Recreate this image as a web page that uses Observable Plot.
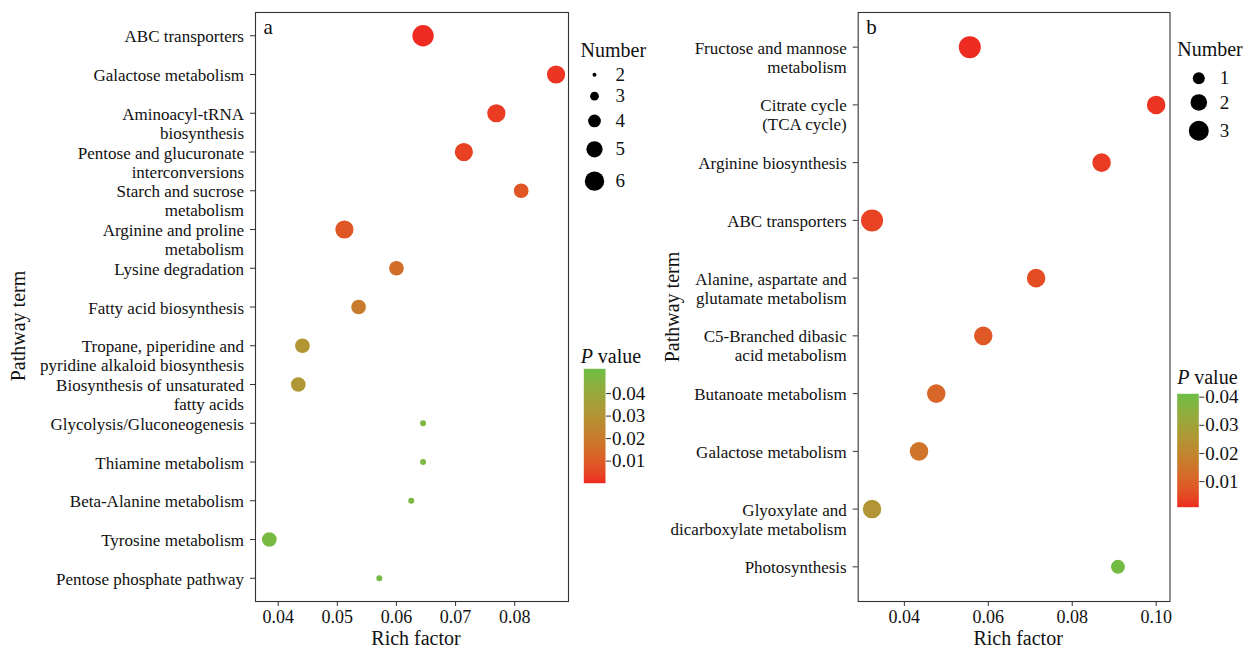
<!DOCTYPE html>
<html>
<head>
<meta charset="utf-8">
<script src="https://cdn.jsdelivr.net/npm/d3@7"></script>
<script src="https://cdn.jsdelivr.net/npm/@observablehq/plot@0.6"></script>
<style>
  body { margin: 0; background: #fff; }
  #chart { position: relative; width: 1248px; height: 651px; overflow: hidden; background: #fff; }
  #chart > svg { position: absolute; }
</style>
</head>
<body>
<div id="chart"></div>
<script>
const FONT = '"Liberation Serif", "Times New Roman", Times, serif';
const INK = "#111";
const LINE = "#333";
const LOW = "#EE2A22";   // small P value
const HIGH = "#6DBE45";  // large P value

// ---- Panel a ----
const termsA = [
  "ABC transporters",
  "Galactose metabolism",
  "Aminoacyl-tRNA\nbiosynthesis",
  "Pentose and glucuronate\ninterconversions",
  "Starch and sucrose\nmetabolism",
  "Arginine and proline\nmetabolism",
  "Lysine degradation",
  "Fatty acid biosynthesis",
  "Tropane, piperidine and\npyridine alkaloid biosynthesis",
  "Biosynthesis of unsaturated\nfatty acids",
  "Glycolysis/Gluconeogenesis",
  "Thiamine metabolism",
  "Beta-Alanine metabolism",
  "Tyrosine metabolism",
  "Pentose phosphate pathway"
];
const richA  = [0.0645, 0.0870, 0.0769, 0.0714, 0.0811, 0.0512, 0.0600, 0.0536, 0.0441, 0.0434, 0.0645, 0.0645, 0.0625, 0.0385, 0.0571];
const countA = [6, 5, 5, 5, 4, 5, 4, 4, 4, 4, 2, 2, 2, 4, 2];
const pA     = [0.0003, 0.0017, 0.0027, 0.0038, 0.0083, 0.0088, 0.0155, 0.0205, 0.0310, 0.0320, 0.0470, 0.0470, 0.0475, 0.0485, 0.0495];
const xTicksA = [0.04, 0.05, 0.06, 0.07, 0.08];
const countKeysA = [2, 3, 4, 5, 6];
const pTicksA = [0.01, 0.02, 0.03, 0.04];

// ---- Panel b ----
const termsB = [
  "Fructose and mannose\nmetabolism",
  "Citrate cycle\n(TCA cycle)",
  "Arginine biosynthesis",
  "ABC transporters",
  "Alanine, aspartate and\nglutamate metabolism",
  "C5-Branched dibasic\nacid metabolism",
  "Butanoate metabolism",
  "Galactose metabolism",
  "Glyoxylate and\ndicarboxylate metabolism",
  "Photosynthesis"
];
const richB  = [0.0556, 0.1000, 0.0870, 0.0323, 0.0714, 0.0588, 0.0476, 0.0435, 0.0323, 0.0909];
const countB = [3, 2, 2, 3, 2, 2, 2, 2, 2, 1];
const pB     = [0.0011, 0.0020, 0.0030, 0.0040, 0.0057, 0.0078, 0.0110, 0.0150, 0.0250, 0.0400];
const xTicksB = [0.04, 0.06, 0.08, 0.10];
const countKeysB = [1, 2, 3];
const pTicksB = [0.01, 0.02, 0.03, 0.04];

// ---- shared scale settings ----
const rA = {type: "sqrt", domain: [2, 6], range: [2, 9.7]};
const rB = {type: "sqrt", domain: [1, 3], range: [6, 10]};
const colorA = {type: "linear", domain: [0.0002, 0.0510], range: [LOW, HIGH], interpolate: d3.interpolateLab};
const colorB = {type: "linear", domain: [0.0009, 0.0412], range: [LOW, HIGH], interpolate: d3.interpolateLab};

const chart = document.getElementById("chart");
function place(node, left, top) {
  node.style.left = left + "px";
  node.style.top = top + "px";
  chart.append(node);
  return node;
}
const baseStyle = {fontFamily: FONT, fontSize: "17px", color: INK, background: "transparent", overflow: "visible"};

function bubblePanel({terms, rich, count, p, xDomain, xTicks, r, color, letter, width, marginLeft, marginRight, titleX, titleDy}) {
  const rows = terms.map((term, i) => ({term, rich: rich[i], count: count[i], p: p[i]}));
  return Plot.plot({
    width, height: 651,
    marginLeft, marginRight, marginTop: 12, marginBottom: 50,
    style: baseStyle,
    x: {domain: xDomain, label: null},
    y: {type: "point", domain: terms, padding: 0.6, round: false, label: null},
    r, color,
    marks: [
      Plot.frame({stroke: LINE, strokeWidth: 1.1}),
      Plot.axisX({ticks: xTicks, tickFormat: d3.format(".2f"), tickSize: 5, tickPadding: 4, fontSize: 18, stroke: LINE, label: null}),
      Plot.axisY({tickSize: 5, tickFormat: () => "", stroke: LINE, label: null}),
      Plot.text(terms, {y: d => d, text: d => d, frameAnchor: "left", dx: -11.5, dy: -7,
        textAnchor: "end", lineAnchor: "top", lineHeight: 1.12, fontSize: 17, fill: INK}),
      Plot.text(["Rich factor"], {frameAnchor: "bottom", dx: 4, dy: 37.5, textAnchor: "middle", lineAnchor: "middle", fontSize: 20, fill: INK}),
      Plot.text(["Pathway term"], {frameAnchor: "left", rotate: -90, dx: titleX - marginLeft, dy: titleDy,
        textAnchor: "middle", lineAnchor: "middle", fontSize: 20, fill: INK}),
      Plot.text([letter], {frameAnchor: "top-left", dx: 8, dy: 15, textAnchor: "start", lineAnchor: "middle", fontSize: 21, fill: INK}),
      Plot.dot(rows, {x: "rich", y: "term", r: "count", fill: "p", stroke: "p", strokeWidth: 2})
    ]
  });
}

// keys are stacked by their drawn radius, larger circles taking more room
function sizeLegend({keys, r, pad, width, height, titleX, titleY, keyX, keyY0}) {
  const rs = Plot.scale({r});
  const rows = [];
  let y = keyY0, prev = 0;
  keys.forEach((k, i) => {
    const h = Math.max(20, 2 * rs.apply(k) + pad);
    if (i) y += (prev + h) / 2;
    rows.push({count: k, y});
    prev = h;
  });
  return Plot.plot({
    width, height, margin: 0,
    style: baseStyle,
    y: {type: "identity", axis: null},
    r,
    marks: [
      Plot.text(["Number"], {frameAnchor: "top-left", dx: titleX, dy: titleY, textAnchor: "start", lineAnchor: "middle", fontSize: 20, fill: INK}),
      Plot.dot(rows, {y: "y", r: "count", fill: "#000", frameAnchor: "left", dx: keyX}),
      Plot.text(rows, {y: "y", text: "count", frameAnchor: "left", dx: keyX + 21, textAnchor: "start", lineAnchor: "middle", fontSize: 19, fill: INK})
    ]
  });
}

function colorLegend({color, ticks, width, height, marginLeft, marginTop, barWidth, barHeight, titleDx, titleDy}) {
  const [lo, hi] = color.domain;
  return Plot.plot({
    width, height,
    marginLeft, marginTop,
    marginRight: width - marginLeft - barWidth,
    marginBottom: height - marginTop - barHeight,
    style: baseStyle,
    x: {domain: [0, 1], axis: null, label: null},
    y: {domain: [lo, hi], axis: null, label: null},
    color,
    marks: [
      Plot.raster({x1: 0, x2: 1, y1: lo, y2: hi, width: 1, height: 256, fill: (x, y) => y}),
      Plot.axisY({anchor: "right", ticks, tickFormat: d3.format(".2f"), tickSize: 5, tickPadding: 1.5, fontSize: 19, stroke: LINE, label: null}),
      Plot.text(["P"], {frameAnchor: "top-left", dx: titleDx, dy: titleDy, textAnchor: "start", lineAnchor: "bottom", fontStyle: "italic", fontSize: 20, fill: INK}),
      Plot.text(["value"], {frameAnchor: "top-left", dx: titleDx + 17, dy: titleDy, textAnchor: "start", lineAnchor: "bottom", fontSize: 20, fill: INK})
    ]
  });
}

// panel a and its legends
place(bubblePanel({
  terms: termsA, rich: richA, count: countA, p: pA,
  xDomain: [0.03616, 0.0891], xTicks: xTicksA, r: rA, color: colorA, letter: "a",
  width: 580, marginLeft: 255, marginRight: 12, titleX: 18.5, titleDy: 19
}), 0, 0);
place(sizeLegend({keys: countKeysA, r: rA, pad: 14, width: 90, height: 175, titleX: 10, titleY: 20, keyX: 24, keyY0: 44.3}), 570, 30);
place(colorLegend({color: colorA, ticks: pTicksA, width: 90, height: 160, marginLeft: 13.3, marginTop: 33.3,
  barWidth: 21.7, barHeight: 114.4, titleDx: -3, titleDy: -6.3}), 570, 335);

// panel b and its legends
place(bubblePanel({
  terms: termsB, rich: richB, count: countB, p: pB,
  xDomain: [0.0290, 0.1033], xTicks: xTicksB, r: rB, color: colorB, letter: "b",
  width: 580, marginLeft: 257.7, marginRight: 10.5, titleX: 72.5, titleDy: 0
}), 600, 0);
place(sizeLegend({keys: countKeysB, r: rB, pad: 10, width: 83, height: 130, titleX: 11.7, titleY: 19.3, keyX: 33.3, keyY0: 47.7}), 1165, 30);
place(colorLegend({color: colorB, ticks: pTicksB, width: 83, height: 160, marginLeft: 11.7, marginTop: 33.3,
  barWidth: 21.6, barHeight: 113.4, titleDx: 0, titleDy: -10}), 1165, 360);
</script>
</body>
</html>
